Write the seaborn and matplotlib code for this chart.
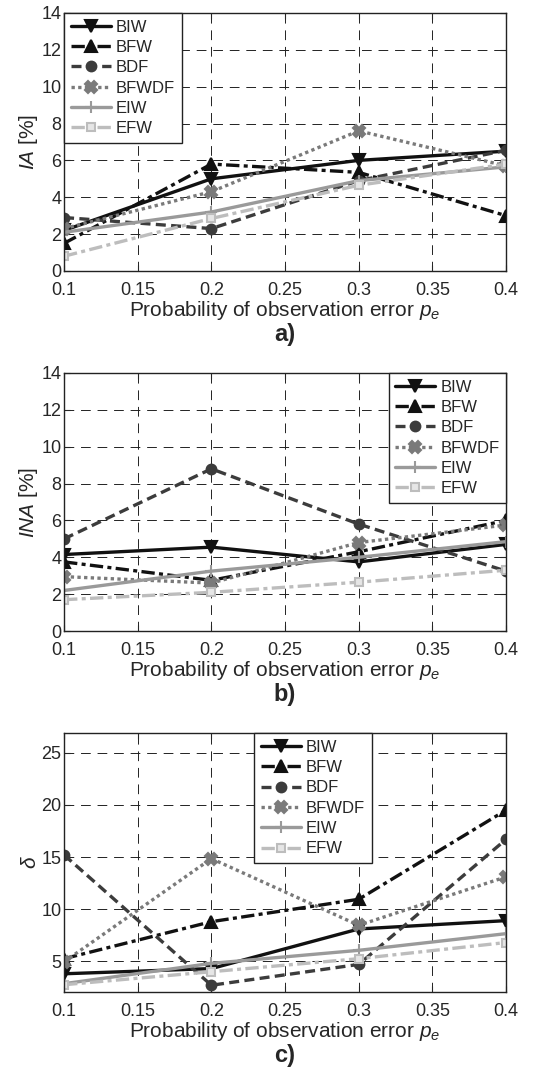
import numpy as np
import pandas as pd
import matplotlib
matplotlib.use("Agg")
import matplotlib.pyplot as plt
import seaborn as sns

# данные
pe = [0.1, 0.2, 0.3, 0.4]
methods = ["BIW", "BFW", "BDF", "BFWDF", "EIW", "EFW"]

# a) IA [%]
ia_biw = [2.2, 5.0, 6.0, 6.5]
ia_bfw = [1.5, 5.8, 5.35, 3.0]
ia_bdf = [2.9, 2.3, 4.9, 6.55]
ia_bfwdf = [2.3, 4.3, 7.6, 5.7]
ia_eiw = [2.1, 3.2, 4.9, 5.65]
ia_efw = [0.8, 2.85, 4.65, 5.8]

# b) INA [%]
ina_biw = [4.15, 4.55, 3.75, 4.7]
ina_bfw = [3.75, 2.75, 4.3, 6.0]
ina_bdf = [5.0, 8.8, 5.8, 3.25]
ina_bfwdf = [2.95, 2.6, 4.8, 5.75]
ina_eiw = [2.2, 3.25, 4.0, 4.85]
ina_efw = [1.7, 2.1, 2.65, 3.3]

# c) delta
d_biw = [3.8, 4.3, 8.1, 8.9]
d_bfw = [5.25, 8.8, 10.95, 19.5]
d_bdf = [15.2, 2.7, 4.7, 16.7]
d_bfwdf = [4.95, 14.85, 8.45, 13.1]
d_eiw = [2.85, 4.8, 6.05, 7.65]
d_efw = [2.75, 4.0, 5.25, 6.8]

x_ticks = [0.1, 0.15, 0.2, 0.25, 0.3, 0.35, 0.4]
x_ticklabels = ["0.1", "0.15", "0.2", "0.25", "0.3", "0.35", "0.4"]

sns.set_style("ticks")
plt.rcParams["font.family"] = ["Liberation Sans", "DejaVu Sans"]
plt.rcParams["mathtext.fontset"] = "custom"
plt.rcParams["mathtext.rm"] = "Liberation Sans"
plt.rcParams["mathtext.it"] = "Liberation Sans:italic"

# стиль линий для каждого метода
dashdot = (0, (4, 1.3, 1.2, 1.3))
styles = {
    "BIW":   dict(color="#111111", ls="-",  marker="v", mfc="#111111", ms=8),
    "BFW":   dict(color="#111111", ls=dashdot, marker="^", mfc="#111111", ms=8),
    "BDF":   dict(color="#3c3c3c", ls=(0, (3, 1.6)), marker="o", mfc="#3c3c3c", ms=7),
    "BFWDF": dict(color="#7a7a7a", ls=(0, (1, 1)), marker="X", mfc="#7a7a7a", ms=8),
    "EIW":   dict(color="#9a9a9a", ls="-",  marker="+", mfc="#9a9a9a", ms=9),
    "EFW":   dict(color="#bdbdbd", ls=dashdot, marker="s", mfc="#e6e6e6", ms=6),
}

panels = [
    (dict(zip(methods, [ia_biw, ia_bfw, ia_bdf, ia_bfwdf, ia_eiw, ia_efw])),
     r"$\it{IA}$ [%]", (0, 14), list(range(0, 15, 2)), ("upper left", (0, 1)), "a)"),
    (dict(zip(methods, [ina_biw, ina_bfw, ina_bdf, ina_bfwdf, ina_eiw, ina_efw])),
     r"$\it{INA}$ [%]", (0, 14), list(range(0, 15, 2)), ("upper right", (1, 1)), "b)"),
    (dict(zip(methods, [d_biw, d_bfw, d_bdf, d_bfwdf, d_eiw, d_efw])),
     r"$\delta$", (2.05, 26.9), [5, 10, 15, 20, 25], ("upper center", (0.563, 1)), "c)"),
]

fig = plt.figure(figsize=(5.43, 10.77), dpi=100)
rects = [
    [0.118, 0.7484, 0.814, 0.2396],
    [0.118, 0.4141, 0.814, 0.2396],
    [0.118, 0.0789, 0.814, 0.2405],
]

for rect, (data, ylab, ylim, yticks, (loc, anchor), tag) in zip(rects, panels):
    ax = fig.add_axes(rect)
    for m in methods:
        st = styles[m]
        sns.lineplot(x=pe, y=data[m], ax=ax, color=st["color"], linestyle=st["ls"],
                     marker=st["marker"], markersize=st["ms"], markerfacecolor=st["mfc"],
                     markeredgecolor=st["color"], markeredgewidth=1.5,
                     linewidth=2.4, label=m)
    ax.set_xlim(0.1, 0.4)
    ax.set_ylim(*ylim)
    ax.set_xticks(x_ticks)
    ax.set_xticklabels(x_ticklabels)
    ax.set_yticks(yticks)
    ax.grid(True, color="#222222", linestyle=(0, (10, 7)), linewidth=0.7)
    ax.tick_params(direction="in", top=True, right=True, labelsize=13, length=4)
    ax.tick_params(axis="x", pad=8)
    ax.tick_params(axis="y", pad=2)
    for s in ax.spines.values():
        s.set_linewidth(1.0)
        s.set_color("#222222")
    ax.set_xlabel(r"Probability of observation error $p_e$", fontsize=15, labelpad=0)
    ax.set_ylabel(ylab, fontsize=15, labelpad=1)
    ax.text(0.5, -0.245, tag, transform=ax.transAxes, ha="center", va="center",
            fontsize=17, fontweight="bold")
    leg = ax.legend(loc=loc, bbox_to_anchor=anchor, fontsize=12, handlelength=2.4,
                    labelspacing=0.32, borderaxespad=0, fancybox=False, framealpha=1,
                    edgecolor="#222222", borderpad=0.4, handletextpad=0.3)
    leg.get_frame().set_linewidth(1.0)

fig.savefig("out.png", dpi=100)
